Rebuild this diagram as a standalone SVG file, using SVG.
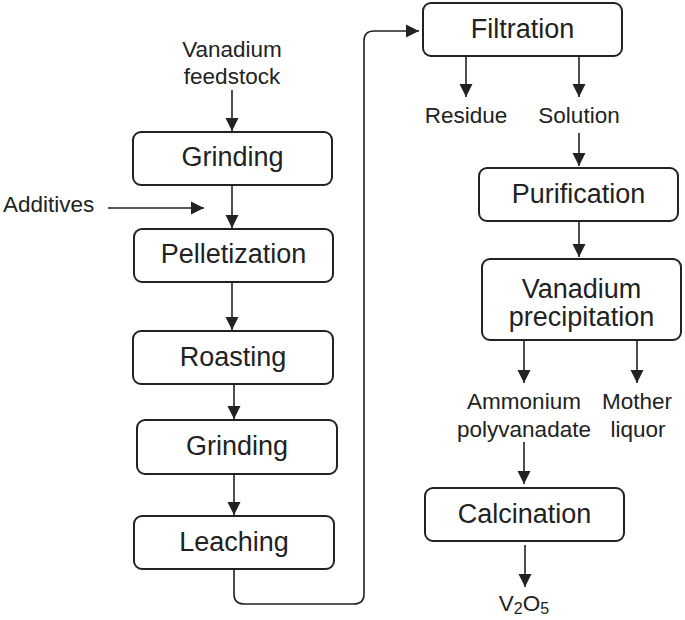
<svg xmlns="http://www.w3.org/2000/svg" width="685" height="620" viewBox="0 0 685 620">
<defs>
<marker id="ah" markerUnits="userSpaceOnUse" markerWidth="14" markerHeight="14" viewBox="0 0 14 14" refX="13" refY="7" orient="auto">
<path d="M0,0.5 L13,7 L0,13.5 Z" fill="#222"/>
</marker>
<style>
.box{fill:#fff;stroke:#222;stroke-width:2}
.lbl{font-family:"Liberation Sans",Arial,sans-serif;font-size:27px;fill:#222;text-anchor:middle}
.sm{font-family:"Liberation Sans",Arial,sans-serif;font-size:22.5px;fill:#222;text-anchor:middle}
.ln{fill:none;stroke:#222;stroke-width:1.6;marker-end:url(#ah)}
</style>
</defs>
<rect width="685" height="620" fill="#fff"/>
<g id="connectors">
<path class="ln" d="M232,90 V131"/>
<path class="ln" d="M232,186 V228"/>
<path class="ln" d="M108,208 H204"/>
<path class="ln" d="M232,283 V330"/>
<path class="ln" d="M234,385 V419"/>
<path class="ln" d="M234,475 V515"/>
<path class="ln" d="M234,570 V594 Q234,604 244,604 H354 Q364,604 364,594 V41 Q364,31 374,31 H419"/>
<path class="ln" d="M466,57 V97"/>
<path class="ln" d="M579,57 V97"/>
<path class="ln" d="M579,133 V166"/>
<path class="ln" d="M579,222 V257"/>
<path class="ln" d="M524,341 V383"/>
<path class="ln" d="M637,341 V383"/>
<path class="ln" d="M524,442 V484"/>
<path class="ln" d="M525,545 V587"/>
</g>
<g id="feedstock"><text class="sm" x="232" y="57">Vanadium</text><text class="sm" x="232" y="84">feedstock</text></g>
<g id="additives"><text class="sm" x="3" y="212" style="text-anchor:start">Additives</text></g>
<g id="grinding1"><rect class="box" x="133" y="132" width="199" height="53" rx="8"/><text class="lbl" x="232.5" y="166">Grinding</text></g>
<g id="pelletization"><rect class="box" x="134" y="229" width="199" height="53" rx="8"/><text class="lbl" x="233.5" y="263">Pelletization</text></g>
<g id="roasting"><rect class="box" x="133" y="331" width="200" height="53" rx="8"/><text class="lbl" x="233" y="366">Roasting</text></g>
<g id="grinding2"><rect class="box" x="137" y="420" width="200" height="54" rx="8"/><text class="lbl" x="237" y="455">Grinding</text></g>
<g id="leaching"><rect class="box" x="134" y="516" width="200" height="53" rx="8"/><text class="lbl" x="234" y="551">Leaching</text></g>
<g id="filtration"><rect class="box" x="423" y="3" width="199" height="53" rx="8"/><text class="lbl" x="522.5" y="38">Filtration</text></g>
<g id="residue"><text class="sm" x="466" y="123">Residue</text></g>
<g id="solution"><text class="sm" x="579" y="123">Solution</text></g>
<g id="purification"><rect class="box" x="479" y="168" width="199" height="53" rx="8"/><text class="lbl" x="578.5" y="203">Purification</text></g>
<g id="precipitation"><rect class="box" x="482" y="259" width="199" height="81" rx="8"/><text class="lbl" x="581.5" y="298">Vanadium</text><text class="lbl" x="581.5" y="326">precipitation</text></g>
<g id="apv"><text class="sm" x="524" y="409">Ammonium</text><text class="sm" x="524" y="437">polyvanadate</text></g>
<g id="mother"><text class="sm" x="637" y="409">Mother</text><text class="sm" x="638" y="437">liquor</text></g>
<g id="calcination"><rect class="box" x="425" y="488" width="199" height="53" rx="8"/><text class="lbl" x="524.5" y="523">Calcination</text></g>
<g id="v2o5"><text class="sm" x="524" y="611">V<tspan font-size="16" dy="3">2</tspan><tspan dy="-3">O</tspan><tspan font-size="16" dy="3">5</tspan></text></g>
</svg>
